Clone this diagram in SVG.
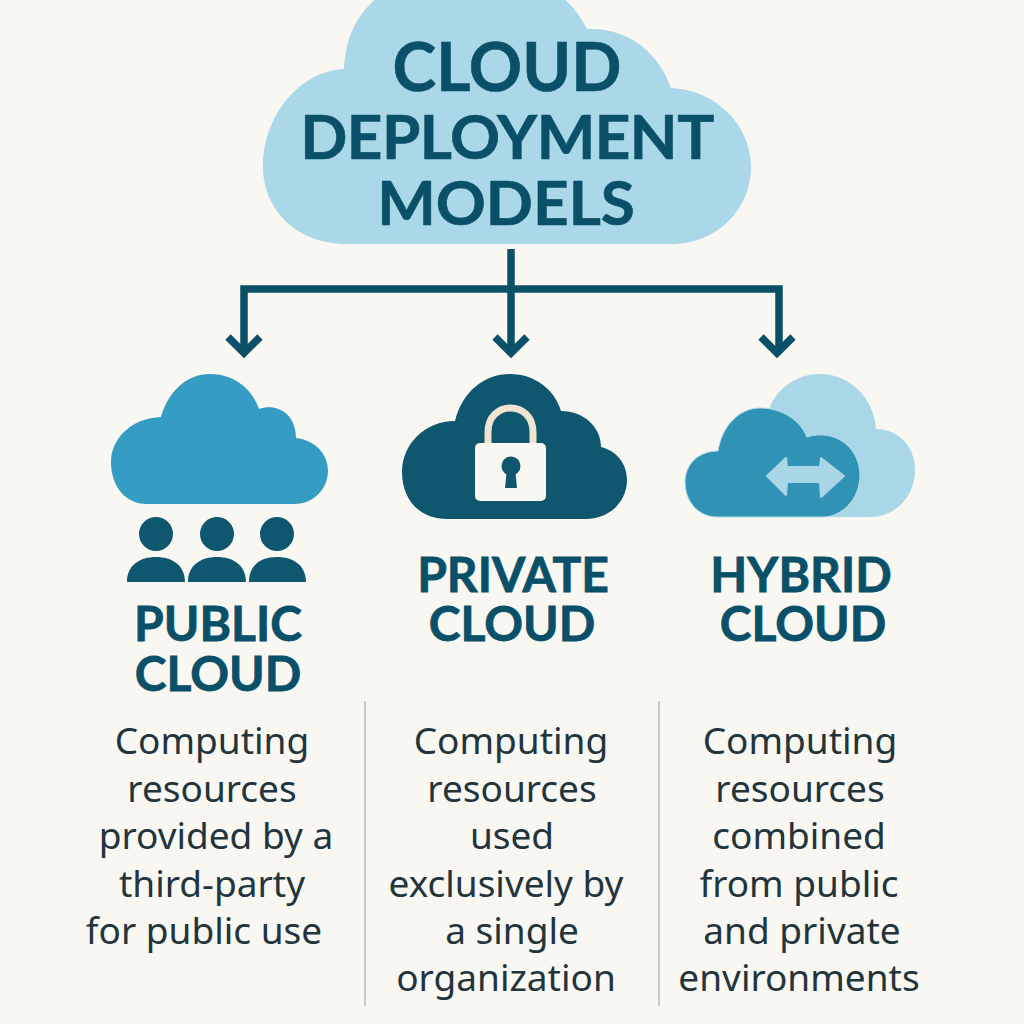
<svg xmlns="http://www.w3.org/2000/svg" width="1024" height="1024" viewBox="0 0 1024 1024">
<style>
.t{font-family:"Lato","Noto Sans",sans-serif;font-weight:700;fill:#0a5068;text-anchor:middle}
.h{font-size:48px;stroke:#0a5068;stroke-width:.8}
.m{font-size:62px;stroke:#0a5068;stroke-width:.6}
.b{font-family:"Noto Sans","Open Sans",sans-serif;font-size:37px;fill:#22343c;text-anchor:middle}
.c{fill:none;stroke:#0a5068;stroke-width:7.5}
</style>
<rect width="1024" height="1024" fill="#f9f7f2"/>
<g id="root">
<path d="M347 244C295 244 263 208 263 167C263 115 300 71 344 69C346 30 362 10 380 -5H560C572 5 581 17 587 29C630 27 660 55 671 88C716 90 751 125 751 167C751 210 716 244 672 244Z" fill="#aad8e9"/>
<text class="t m" x="507" y="91" style="font-size:66px">CLOUD</text>
<text class="t m" x="507" y="159" style="letter-spacing:-.5px">DEPLOYMENT</text>
<text class="t m" x="506" y="225">MODELS</text>
</g>
<g id="connectors">
<path class="c" d="M511 249V353M244 353V289H779V353M228 337L244 353L260 337M495 337L511 353L527 337M761 337L777 353L793 337"/>
</g>
<g id="public">
<path d="M147 504C125 504 111 486 111 462C111 438 132 418 161 417C168 392 186 374 210 374C233 374 252 388 259 409C275 403 296 412 296 438C314 440 328 453 328 471C328 489 313 504 295 504Z" fill="#359cc3"/>
<g fill="#0f566f"><circle cx="156" cy="534" r="17"/><circle cx="217" cy="534" r="17"/><circle cx="277" cy="534" r="17"/>
<path d="M127 582C127 565 140 557 156 557C172 557 185 565 185 582ZM188 582C188 565 201 557 217 557C233 557 246 565 246 582ZM249 582C249 565 261 557 277 557C293 557 306 565 306 582Z"/></g>
<text class="t h" x="218" y="641">PUBLIC</text><text class="t h" x="218" y="691">CLOUD</text>
<text class="b"><tspan x="212" y="754">Computing</tspan><tspan x="212" y="802">resources</tspan><tspan x="216" y="849">provided by a</tspan><tspan x="212" y="897">third-party</tspan><tspan x="204" y="944">for public use</tspan></text>
</g>
<g id="private">
<path d="M447 519C420 519 402 500 402 472C402 444 425 421 455 421C462 392 484 374 510 374C535 374 555 390 561 411C585 411 601 428 601 447C617 451 627 464 627 480C627 502 609 519 586 519Z" fill="#0f566f"/>
<path d="M488 444V432C488 400 533 400 533 432V444" fill="none" stroke="#f0e4d0" stroke-width="7"/>
<rect x="475" y="443" width="71" height="58" rx="5" fill="#f9f7f2"/>
<circle cx="511" cy="466" r="9.5" fill="#0f566f"/><path d="M507 468H515L517 488H505Z" fill="#0f566f"/>
<text class="t h" x="513" y="592">PRIVATE</text><text class="t h" x="512" y="641">CLOUD</text>
<text class="b"><tspan x="511" y="754">Computing</tspan><tspan x="512" y="802">resources</tspan><tspan x="512" y="849">used</tspan><tspan x="506" y="897">exclusively by</tspan><tspan x="512" y="944">a single</tspan><tspan x="506" y="991">organization</tspan></text>
</g>
<g id="hybrid">
<path d="M770 407C778 387 798 374 820 374C850 374 874 398 876 429C898 429 915 446 915 470C915 497 895 517 870 517H800Z" fill="#aad7e8"/>
<path d="M717 517C698 517 685 501 685 482C685 464 699 451 718 451C722 426 739 408 760 408C782 408 800 420 807 437C835 428 860 448 860 475C860 499 842 517 823 517Z" fill="#3093b6" stroke="#b5dcea" stroke-width="1"/>
<path d="M767 476L786 458L787 467H820L821 458L844 476L821 497L820 482H787L786 495Z" fill="#a9d6e6" stroke="#a9d6e6" stroke-width="2" stroke-linejoin="round"/>
<text class="t h" x="801" y="592">HYBRID</text><text class="t h" x="803" y="641">CLOUD</text>
<text class="b"><tspan x="800" y="754">Computing</tspan><tspan x="800" y="802">resources</tspan><tspan x="799" y="849">combined</tspan><tspan x="799" y="897">from public</tspan><tspan x="802" y="944">and private</tspan><tspan x="799" y="991">environments</tspan></text>
</g>
<path d="M365 701V1006M659 701V1006" stroke="#c9c9c6" stroke-width="2" fill="none"/>
</svg>
